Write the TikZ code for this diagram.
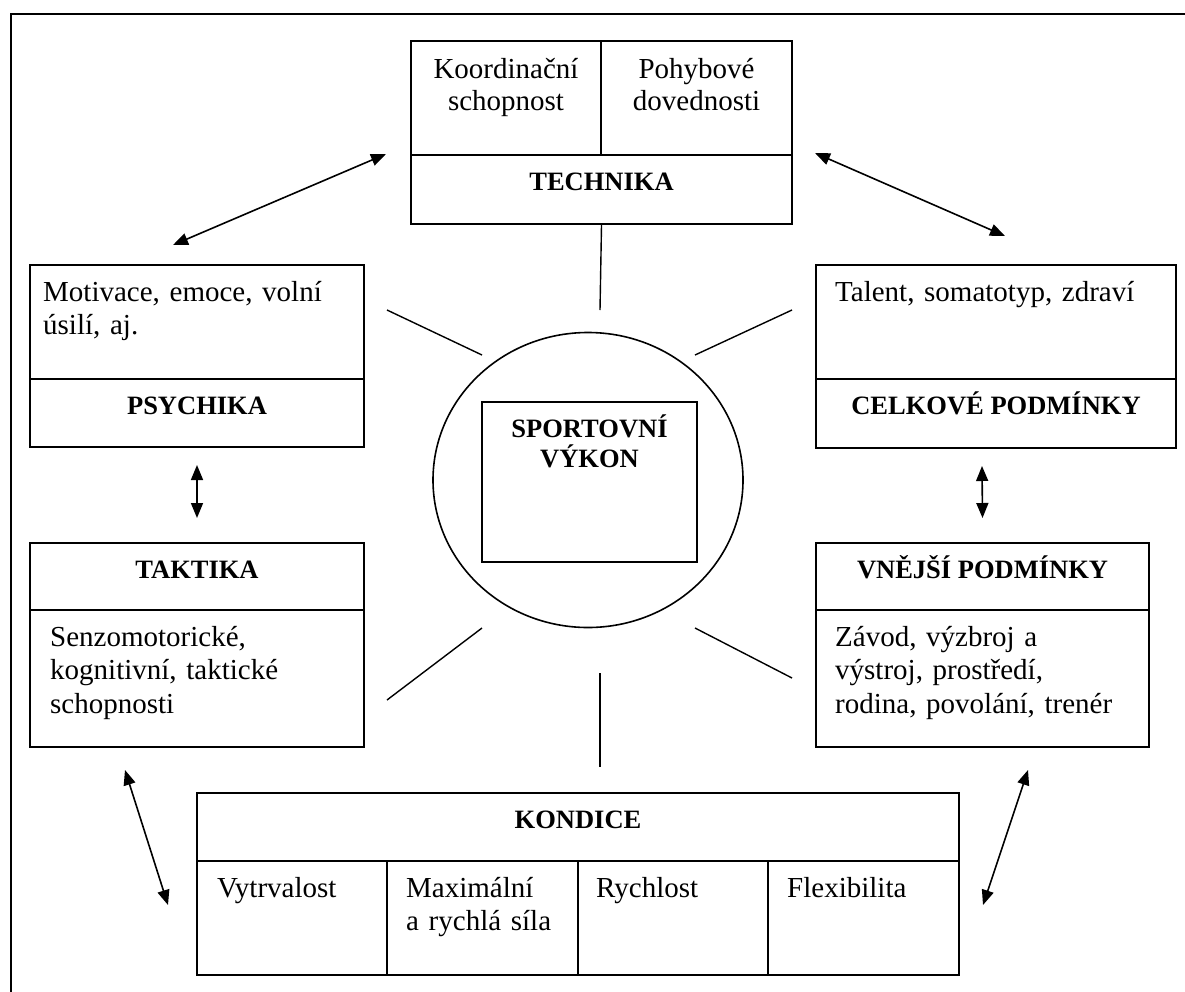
\documentclass[tikz,border=0pt]{standalone}
\usepackage{fontspec}
\setmainfont{Liberation Serif}
\usetikzlibrary{arrows.meta,shapes.geometric}

\begin{document}
\begin{tikzpicture}[x=1pt,y=-1pt,
    casella/.style={draw,line width=2pt,inner sep=0pt,anchor=north west},
    titolo/.style={anchor=base,inner sep=0pt,font=\fontsize{26.5}{30}\selectfont\bfseries},
    testo/.style={anchor=base west,inner sep=0pt,text width=320pt,align=left,font=\fontsize{29}{33.5}\selectfont},
    centrato/.style={anchor=base,inner sep=0pt,text width=180pt,align=center,font=\fontsize{29}{32}\selectfont},
    freccia/.style={line width=1.6pt,{Triangle[length=15pt,width=12pt]}-{Triangle[length=15pt,width=12pt]}},
    raggio/.style={line width=1.4pt}]
        \useasboundingbox (0,0) rectangle (1185,991);
        % --- macro riutilizzabili -----------------------------------------
        \def\casella#1#2#3#4#5{\node[casella,minimum width=#4pt,minimum height=#5pt] (#1) at (#2,#3) {};}
        \def\titolo#1#2#3{\node[titolo] (#1) at ([yshift=-36pt]#2.north) {#3};}
        \def\testo#1#2#3#4{\node[testo] (#1) at ([xshift=#3pt,yshift=-37pt]#2.north west) {#4};}
        % --- cornice ------------------------------------------------------
        \draw[line width=2.6pt] (11,1010) -- (11,14) -- (1200,14);
        % --- riquadri -----------------------------------------------------
        \casella{tkA}{410}{40}{190}{114}
        \casella{tkB}{600}{40}{191}{114}
        \casella{tk}{410}{154}{381}{69}
        \casella{psA}{29}{264}{334}{114}
        \casella{ps}{29}{378}{334}{68}
        \casella{ta}{29}{542}{334}{67}
        \casella{taA}{29}{609}{334}{137}
        \casella{ceA}{815}{264}{360}{114}
        \casella{ce}{815}{378}{360}{69}
        \casella{vn}{815}{542}{333}{67}
        \casella{vnA}{815}{609}{333}{137}
        \casella{ko}{196}{792}{762}{68}
        \casella{koA}{196}{860}{190}{114}
        \casella{koB}{386}{860}{191}{114}
        \casella{koC}{577}{860}{190}{114}
        \casella{koD}{767}{860}{191}{114}
        % --- centro -------------------------------------------------------
        \node[draw,ellipse,line width=1.6pt,inner sep=0pt,minimum width=310pt,minimum height=295pt] (cerchio) at (588,480) {};
        \casella{vykon}{481}{401}{215}{160}
        \node[titolo,text width=220pt,align=center] (vykonT) at ([yshift=-36pt]vykon.north) {SPORTOVNÍ\\VÝKON};
        % --- titoli -------------------------------------------------------
        \titolo{tkT}{tk}{TECHNIKA}
        \titolo{psT}{ps}{PSYCHIKA}
        \titolo{taT}{ta}{TAKTIKA}
        \titolo{ceT}{ce}{CELKOVÉ PODMÍNKY}
        \titolo{vnT}{vn}{VNĚJŠÍ PODMÍNKY}
        \titolo{koT}{ko}{KONDICE}
        % --- testi --------------------------------------------------------
        \node[centrato] (tkAT) at ([yshift=-38pt]tkA.north) {Koordinační\\schopnost};
        \node[centrato] (tkBT) at ([yshift=-38pt]tkB.north) {Pohybové\\dovednosti};
        \testo{psAT}{psA}{14}{Motivace, emoce, volní\\úsilí, aj.}
        \testo{ceAT}{ceA}{20}{Talent, somatotyp, zdraví}
        \testo{taAT}{taA}{21}{Senzomotorické,\\kognitivní, taktické\\schopnosti}
        \testo{vnAT}{vnA}{20}{Závod, výzbroj a\\výstroj, prostředí,\\rodina, povolání, trenér}
        \testo{koAT}{koA}{21}{Vytrvalost}
        \testo{koBT}{koB}{20}{Maximální\\a rychlá síla}
        \testo{koCT}{koC}{19}{Rychlost}
        \testo{koDT}{koD}{20}{Flexibilita}
        % --- raggi --------------------------------------------------------
        \coordinate (r1) at (600,310);
        \coordinate (r2a) at (387,310);  \coordinate (r2b) at (482,355);
        \coordinate (r3a) at (792,310);  \coordinate (r3b) at (695,355);
        \coordinate (r4a) at (387,700);  \coordinate (r4b) at (482,628);
        \coordinate (r5a) at (792,678);  \coordinate (r5b) at (695,628);
        \coordinate (r6a) at (600,673);  \coordinate (r6b) at (600,767);
        \draw[raggio] (tk.south) -- (r1);
        \draw[raggio] (r2a) -- (r2b);
        \draw[raggio] (r3a) -- (r3b);
        \draw[raggio] (r4a) -- (r4b);
        \draw[raggio] (r5a) -- (r5b);
        \draw[raggio] (r6a) -- (r6b);
        % --- frecce -------------------------------------------------------
        \coordinate (f1a) at (173,245);  \coordinate (f1b) at (386,154);
        \coordinate (f2a) at (815,153);  \coordinate (f2b) at (1005,236);
        \coordinate (f5a) at (125,770);  \coordinate (f5b) at (168,905);
        \coordinate (f6a) at (1028,770); \coordinate (f6b) at (983,905);
        \draw[freccia] (f1a) -- (f1b);
        \draw[freccia] (f2a) -- (f2b);
        \draw[freccia] ([yshift=-17pt]ps.south) -- ([yshift=24pt]ta.north);
        \draw[freccia] ([xshift=-14pt,yshift=-17pt]ce.south) -- ([yshift=24pt]vn.north);
        \draw[freccia] (f5a) -- (f5b);
        \draw[freccia] (f6a) -- (f6b);
    \end{tikzpicture}
\end{document}
